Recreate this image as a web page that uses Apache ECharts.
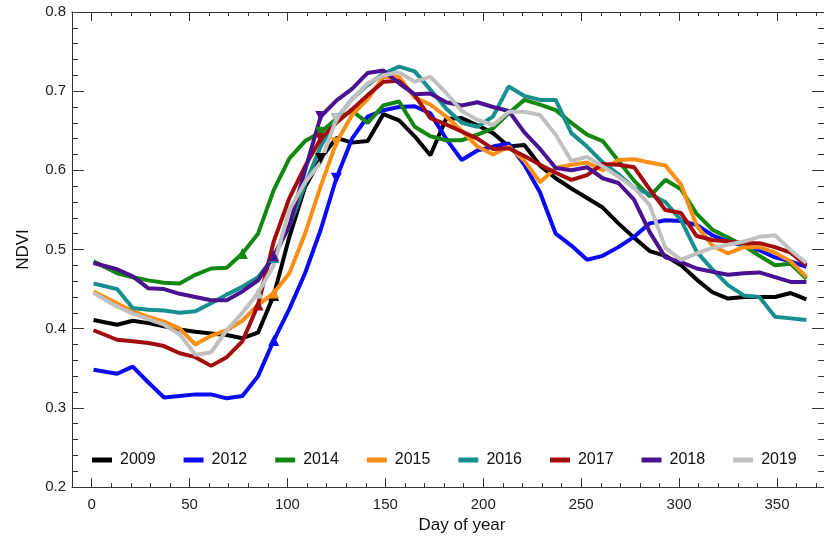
<!DOCTYPE html>
<html>
<head>
<meta charset="utf-8">
<script src="https://cdn.jsdelivr.net/npm/echarts@6/dist/echarts.min.js"></script>
<style>
  html, body { margin: 0; padding: 0; background: #fff; }
  #chart { width: 824px; height: 542px; }
</style>
</head>
<body>
<div id="chart"></div>
<script>
// day of year of each composite
const days = [1, 13, 21, 29, 37, 45, 53, 61, 69, 77, 85, 93, 101, 109, 117, 125, 133, 141, 149, 157,
  165, 173, 181, 189, 197, 205, 213, 221, 229, 237, 245, 253, 261, 269, 277, 285, 293, 301, 309, 317,
  325, 333, 341, 349, 357, 365]

const years = ['2009', '2012', '2014', '2015', '2016', '2017', '2018', '2019']
const colors = ['#000000', '#0a0af5', '#128812', '#f98e12', '#178f8f', '#a20c0c', '#4a1190', '#c0c0c0']

const ndvi2009 = [0.411, 0.405, 0.410, 0.407, 0.403, 0.399, 0.396, 0.394, 0.392, 0.388, 0.395, 0.442, 0.516, 0.579, 0.615, 0.641, 0.635, 0.637, 0.671, 0.663,
  0.643, 0.619, 0.665, 0.666, 0.657, 0.647, 0.630, 0.632, 0.606, 0.590, 0.577, 0.565, 0.553, 0.533, 0.515, 0.498, 0.492, 0.480, 0.462, 0.446,
  0.438, 0.440, 0.440, 0.440, 0.445, 0.437]
const ndvi2012 = [0.348, 0.343, 0.352, 0.332, 0.313, 0.315, 0.317, 0.317, 0.312, 0.315, 0.340, 0.385, 0.425, 0.470, 0.525, 0.590, 0.640, 0.668, 0.676, 0.680,
  0.681, 0.672, 0.640, 0.613, 0.625, 0.630, 0.634, 0.607, 0.572, 0.520, 0.505, 0.487, 0.492, 0.503, 0.516, 0.533, 0.537, 0.536, 0.531, 0.518,
  0.510, 0.505, 0.499, 0.490, 0.485, 0.478]
const ndvi2014 = [0.485, 0.470, 0.465, 0.461, 0.458, 0.457, 0.468, 0.476, 0.477, 0.495, 0.520, 0.575, 0.615, 0.637, 0.648, 0.665, 0.675, 0.660, 0.682, 0.687,
  0.655, 0.643, 0.638, 0.638, 0.645, 0.653, 0.672, 0.689, 0.683, 0.676, 0.660, 0.645, 0.637, 0.612, 0.587, 0.567, 0.588, 0.576, 0.545, 0.525,
  0.515, 0.505, 0.492, 0.480, 0.482, 0.463]
const ndvi2015 = [0.447, 0.432, 0.422, 0.415, 0.409, 0.400, 0.380, 0.391, 0.398, 0.410, 0.430, 0.445, 0.470, 0.520, 0.580, 0.635, 0.670, 0.690, 0.718, 0.718,
  0.692, 0.683, 0.668, 0.650, 0.630, 0.620, 0.630, 0.612, 0.585, 0.603, 0.607, 0.610, 0.600, 0.613, 0.614, 0.610, 0.606, 0.582, 0.530, 0.505,
  0.495, 0.503, 0.503, 0.496, 0.485, 0.465]
const ndvi2016 = [0.457, 0.450, 0.426, 0.424, 0.423, 0.420, 0.422, 0.432, 0.443, 0.453, 0.465, 0.490, 0.530, 0.582, 0.630, 0.665, 0.690, 0.708, 0.722, 0.731,
  0.725, 0.702, 0.678, 0.660, 0.655, 0.668, 0.706, 0.694, 0.689, 0.689, 0.647, 0.630, 0.610, 0.595, 0.578, 0.570, 0.560, 0.537, 0.497, 0.475,
  0.455, 0.442, 0.440, 0.415, 0.413, 0.411]
const ndvi2017 = [0.398, 0.386, 0.384, 0.382, 0.378, 0.369, 0.364, 0.353, 0.364, 0.384, 0.430, 0.510, 0.565, 0.605, 0.640, 0.660, 0.677, 0.695, 0.712, 0.713,
  0.695, 0.666, 0.658, 0.649, 0.640, 0.627, 0.628, 0.618, 0.607, 0.597, 0.588, 0.594, 0.608, 0.607, 0.604, 0.576, 0.550, 0.546, 0.517, 0.512,
  0.510, 0.508, 0.508, 0.503, 0.496, 0.480]
const ndvi2018 = [0.483, 0.475, 0.466, 0.451, 0.450, 0.444, 0.440, 0.436, 0.436, 0.447, 0.461, 0.492, 0.530, 0.600, 0.668, 0.688, 0.703, 0.723, 0.726, 0.710,
  0.696, 0.697, 0.686, 0.682, 0.686, 0.680, 0.675, 0.648, 0.627, 0.603, 0.600, 0.604, 0.590, 0.584, 0.563, 0.522, 0.490, 0.484, 0.476, 0.472,
  0.468, 0.470, 0.471, 0.465, 0.459, 0.459]
const ndvi2019 = [0.445, 0.428, 0.419, 0.412, 0.405, 0.393, 0.367, 0.370, 0.398, 0.420, 0.445, 0.480, 0.550, 0.585, 0.610, 0.665, 0.690, 0.710, 0.720, 0.724,
  0.712, 0.718, 0.698, 0.675, 0.664, 0.657, 0.674, 0.674, 0.670, 0.645, 0.612, 0.617, 0.605, 0.592, 0.578, 0.556, 0.502, 0.487, 0.495, 0.502,
  0.506, 0.510, 0.516, 0.518, 0.499, 0.483]

// days carrying the triangle markers (up = start of green-up, down = second mark)
const upMarkDays = [93, 93, 77, 93, 93, 85, 93, 85]
const downMarkDays = [117, 125, 117, 125, 125, 117, 117, 125]

// axis ticks and labels
const xMinorTicks = [0, 10, 20, 30, 40, 50, 60, 70, 80, 90, 100, 110, 120, 130, 140, 150, 160, 170, 180, 190,
  200, 210, 220, 230, 240, 250, 260, 270, 280, 290, 300, 310, 320, 330, 340, 350, 360, 370]
const xLabels = [0, 50, 100, 150, 200, 250, 300, 350]

const allNdvi = [ndvi2009, ndvi2012, ndvi2014, ndvi2015, ndvi2016, ndvi2017, ndvi2018, ndvi2019]

const chart = echarts.init(document.getElementById('chart'))

const axisColor = '#333'
const font = 'Liberation Sans, Arial, sans-serif'

function xAxisOf (position, tickValues, tickLen, withLabels, withLine) {
  return {
    type: 'value',
    position: position,
    min: -10,
    max: 374,
    axisLine: { show: withLine, onZero: false, lineStyle: { color: axisColor, width: 1 } },
    axisTick: { show: true, inside: true, length: tickLen, customValues: tickValues, lineStyle: { color: axisColor } },
    axisLabel: withLabels
      ? { show: true, customValues: xLabels, fontSize: 15, color: '#222', fontFamily: font, margin: 10 }
      : { show: false },
    splitLine: { show: false }
  }
}

function yAxisOf (position, withLabels) {
  return {
    type: 'value',
    position: position,
    min: 0.2,
    max: 0.8,
    interval: 0.1,
    axisLine: { show: true, onZero: false, lineStyle: { color: axisColor, width: 1 } },
    axisTick: { show: true, inside: true, length: 12, lineStyle: { color: axisColor } },
    minorTick: { show: true, splitNumber: 5, length: 6, lineStyle: { color: axisColor } },
    axisLabel: withLabels
      ? { show: true, fontSize: 15, color: '#222', fontFamily: font, margin: 6, formatter: v => v.toFixed(1) }
      : { show: false },
    splitLine: { show: false }
  }
}

const xAxes = [
  xAxisOf('bottom', xMinorTicks, 4, true, true),
  xAxisOf('bottom', xLabels, 9, false, false),
  xAxisOf('top', xMinorTicks, 4, false, true),
  xAxisOf('top', xLabels, 9, false, false)
]
xAxes[0].name = 'Day of year'
xAxes[0].nameLocation = 'middle'
xAxes[0].nameGap = 30
// 名字在原图里稍微偏右
xAxes[0].nameTextStyle = { fontSize: 17, color: '#111', fontFamily: font, padding: [0, 0, 0, 28] }

const yAxes = [yAxisOf('left', true), yAxisOf('right', false)]
yAxes[0].name = 'NDVI'
yAxes[0].nameLocation = 'middle'
yAxes[0].nameGap = 40
yAxes[0].nameTextStyle = { fontSize: 17, color: '#111', fontFamily: font }

const downTriangle = 'path://M0,0L10,0L5,10Z'

const series = years.map((year, i) => ({
  name: year,
  type: 'line',
  xAxisIndex: 0,
  yAxisIndex: 0,
  data: days.map((d, k) => [d, allNdvi[i][k]]),
  showSymbol: true,
  symbol: (value) => {
    if (value[0] === upMarkDays[i]) return 'triangle'
    if (value[0] === downMarkDays[i]) return downTriangle
    return 'none'
  },
  symbolSize: 11,
  itemStyle: { color: colors[i] },
  lineStyle: { color: colors[i], width: 4 },
  emphasis: { disabled: true }
}))

const option = {
  animation: false,
  backgroundColor: '#fff',
  grid: { left: 72, right: 0, top: 12, bottom: 55, containLabel: false },
  legend: {
    data: years,
    left: 92,
    top: 452,
    padding: 0,
    icon: 'rect',
    itemWidth: 20,
    itemHeight: 5,
    itemGap: 28,
    textStyle: { fontSize: 16, color: '#111', fontFamily: font, padding: [0, 0, 0, 3] }
  },
  xAxis: xAxes,
  yAxis: yAxes,
  series: series
}

chart.setOption(option)
</script>
</body>
</html>
